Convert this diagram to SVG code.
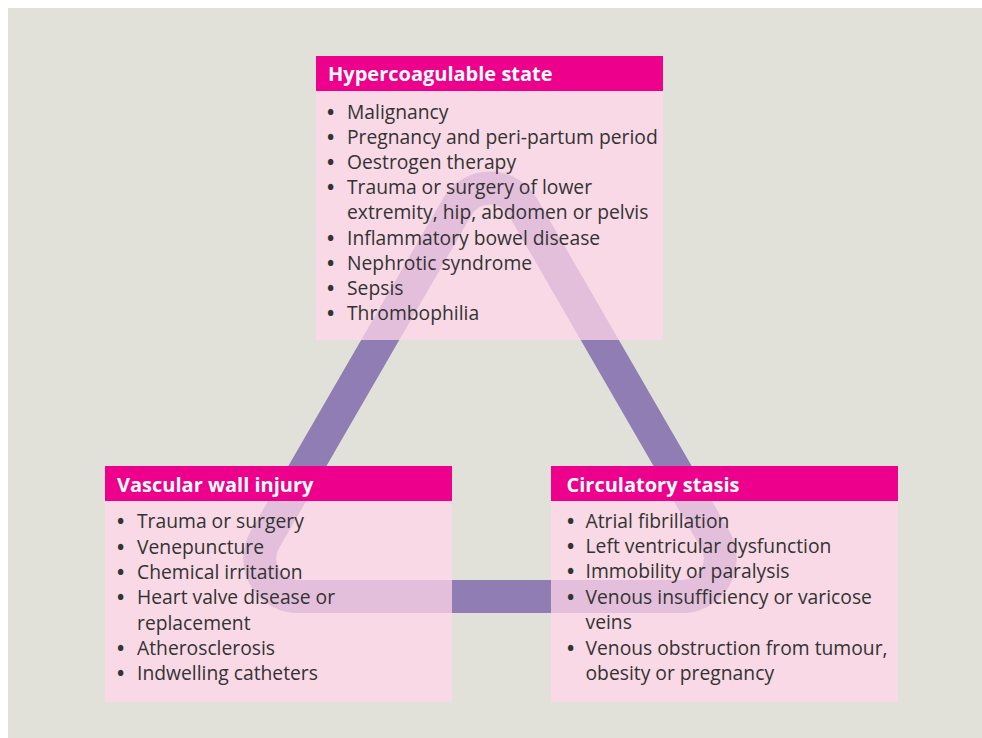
<svg xmlns="http://www.w3.org/2000/svg" width="982" height="738" viewBox="0 0 982 738">
<style>
.bg{fill:#e1e1d9}
.body{fill:#ffd6e8;fill-opacity:0.75}
.head{fill:#ec008c}
.ht{font-family:"Open Sans","Liberation Sans",sans-serif;font-weight:bold;font-size:20px;fill:#ffffff}
.t{font-family:"Open Sans","Liberation Sans",sans-serif;font-size:19.3px;fill:#333333}
.b{font-size:19.3px;font-weight:bold}
.tri{fill:none;stroke:#8f7db3;stroke-width:33}
</style>
<rect x="0" y="0" width="982" height="738" fill="#ffffff"/>
<rect class="bg" x="8" y="8" width="974" height="730"/>
<g id="connectors">
<path class="tri" d="M 457.1 207 A 38 38 0 0 1 522.9 207 L 715.1 539.5 A 38 38 0 0 1 682.2 596.5 L 297.8 596.5 A 38 38 0 0 1 264.9 539.5 Z"/>
</g>
<g id="hypercoagulable">
<rect class="body" x="316" y="90" width="347" height="250"/>
<rect class="head" x="316" y="56" width="347" height="35"/>
<text class="ht" x="328" y="80.5">Hypercoagulable state</text>
<g class="t">
<text x="327" y="119"><tspan class="b">•</tspan><tspan x="347">Malignancy</tspan></text>
<text x="327" y="144.1"><tspan class="b">•</tspan><tspan x="347">Pregnancy and peri-partum period</tspan></text>
<text x="327" y="169.2"><tspan class="b">•</tspan><tspan x="347">Oestrogen therapy</tspan></text>
<text x="327" y="194.3"><tspan class="b">•</tspan><tspan x="347">Trauma or surgery of lower</tspan></text>
<text x="347" y="219.4">extremity, hip, abdomen or pelvis</text>
<text x="327" y="244.5"><tspan class="b">•</tspan><tspan x="347">Inflammatory bowel disease</tspan></text>
<text x="327" y="269.6"><tspan class="b">•</tspan><tspan x="347">Nephrotic syndrome</tspan></text>
<text x="327" y="294.7"><tspan class="b">•</tspan><tspan x="347">Sepsis</tspan></text>
<text x="327" y="319.8"><tspan class="b">•</tspan><tspan x="347">Thrombophilia</tspan></text>
</g>
</g>
<g id="vascular">
<rect class="body" x="105" y="500" width="347" height="202"/>
<rect class="head" x="105" y="466" width="347" height="35"/>
<text class="ht" x="117" y="491.5">Vascular wall injury</text>
<g class="t">
<text x="117" y="528.3"><tspan class="b">•</tspan><tspan x="137">Trauma or surgery</tspan></text>
<text x="117" y="553.6"><tspan class="b">•</tspan><tspan x="137">Venepuncture</tspan></text>
<text x="117" y="578.9"><tspan class="b">•</tspan><tspan x="137">Chemical irritation</tspan></text>
<text x="117" y="604.2"><tspan class="b">•</tspan><tspan x="137">Heart valve disease or</tspan></text>
<text x="137" y="629.5">replacement</text>
<text x="117" y="654.8"><tspan class="b">•</tspan><tspan x="137">Atherosclerosis</tspan></text>
<text x="117" y="680"><tspan class="b">•</tspan><tspan x="137">Indwelling catheters</tspan></text>
</g>
</g>
<g id="stasis">
<rect class="body" x="551" y="500" width="347" height="202"/>
<rect class="head" x="551" y="466" width="347" height="35"/>
<text class="ht" x="566.5" y="491.5">Circulatory stasis</text>
<g class="t">
<text x="567" y="527.5"><tspan class="b">•</tspan><tspan x="585.5">Atrial fibrillation</tspan></text>
<text x="567" y="552.9"><tspan class="b">•</tspan><tspan x="585.5">Left ventricular dysfunction</tspan></text>
<text x="567" y="578.3"><tspan class="b">•</tspan><tspan x="585.5">Immobility or paralysis</tspan></text>
<text x="567" y="603.7"><tspan class="b">•</tspan><tspan x="585.5">Venous insufficiency or varicose</tspan></text>
<text x="585.5" y="629.1">veins</text>
<text x="567" y="654.5"><tspan class="b">•</tspan><tspan x="585.5">Venous obstruction from tumour,</tspan></text>
<text x="585.5" y="679.9">obesity or pregnancy</text>
</g>
</g>
</svg>
